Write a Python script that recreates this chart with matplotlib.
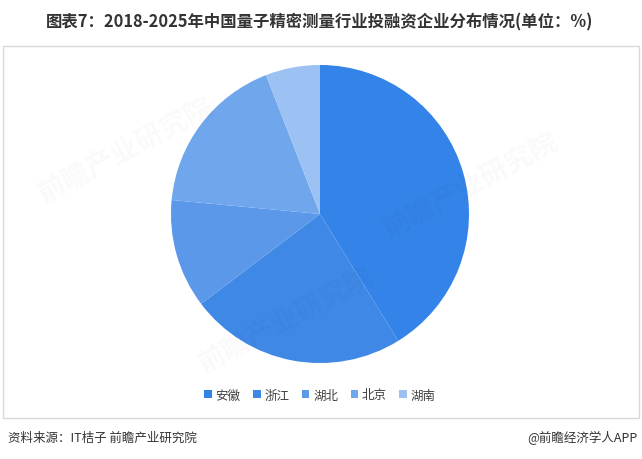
import matplotlib
matplotlib.use("Agg")
from matplotlib import pyplot as plt
from matplotlib.patches import Rectangle

plt.rcParams['font.family'] = ['Noto Sans CJK SC', 'DejaVu Sans']

# 17 companies: 7/4/2/3/1
regions = ["安徽", "浙江", "湖北", "北京", "湖南"]
shares = [41.2, 23.5, 11.8, 17.6, 5.9]
colors = ["#3483e9", "#3f88e6", "#5b98ea", "#6fa6ec", "#9cc2f3"]

title = "图表7：2018-2025年中国量子精密测量行业投融资企业分布情况(单位：%)"
source = "资料来源：IT桔子 前瞻产业研究院"
brand = "@前瞻经济学人APP"

W, H = 642, 460
fig = plt.figure(figsize=(W / 100, H / 100), dpi=100)
fig.patch.set_facecolor("white")

# frame around the chart area
fig.patches.append(Rectangle((3 / W, 1 - 419 / H), 636 / W, 372 / H, transform=fig.transFigure,
                             fill=False, edgecolor="#d9d9d9", linewidth=1.0))

# pie centred at (320, 215) px, radius ~152 px
cx, cy, r = 320, 215, 152
ax = fig.add_axes([(cx - r) / W, 1 - (cy + r) / H, 2 * r / W, 2 * r / H])
wedges, _ = ax.pie(shares, colors=colors, startangle=90, counterclock=False,
                   wedgeprops=dict(linewidth=0))
ax.set_xlim(-1.02, 1.02)
ax.set_ylim(-1.02, 1.02)
ax.set_aspect("equal")
ax.axis("off")

# very faint watermarks
for x, y in [(125, 150), (470, 185), (285, 320)]:
    fig.text(x / W, 1 - y / H, "前瞻产业研究院", fontsize=20, color="#000000", alpha=0.025,
             rotation=28, ha="center", va="center", fontweight="bold")

fig.text(cx / W, 1 - 22 / H, title, ha="center", va="center", fontsize=11.8,
         fontweight="bold", color="#333333")

leg = fig.legend(wedges, regions, loc="center", bbox_to_anchor=(cx / W, 1 - 396 / H),
                 ncol=5, frameon=False, fontsize=9, handlelength=0.6, handleheight=0.6,
                 handletextpad=0.3, columnspacing=1.0)
for t in leg.get_texts():
    t.set_color("#404040")

fig.text(8 / W, 1 - 438 / H, source, ha="left", va="center", fontsize=9, color="#333333")
fig.text(638 / W, 1 - 438 / H, brand, ha="right", va="center", fontsize=9, color="#333333")

fig.savefig("out.png", dpi=100)
